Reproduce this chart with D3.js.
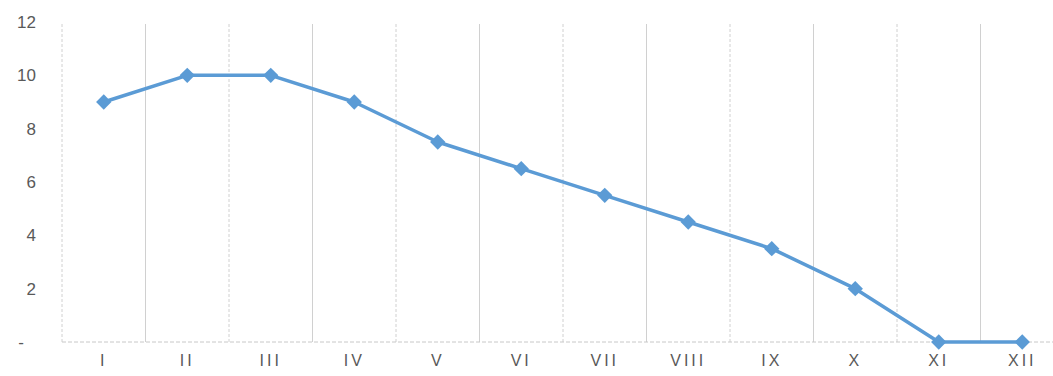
<!DOCTYPE html>
<html>
<head>
<meta charset="utf-8">
<script src="https://cdn.jsdelivr.net/npm/d3@7"></script>
<style>
  body { margin: 0; background: #fff; }
  text { font-family: "Liberation Sans", "DejaVu Sans", sans-serif; fill: #595959; }
</style>
</head>
<body>
<script>
// chart data
var months = ["I", "II", "III", "IV", "V", "VI", "VII", "VIII", "IX", "X", "XI", "XII"];
var values = [9, 10, 10, 9, 7.5, 6.5, 5.5, 4.5, 3.5, 2, 0, 0];
var yTicks = [0, 2, 4, 6, 8, 10, 12];

var width = 1053, height = 376;
var plotLeft = 62, plotRight = 1064, plotTop = 22, plotBottom = 342;

var svg = d3.select("body").append("svg")
    .attr("width", width)
    .attr("height", height);

var x = d3.scaleBand().domain(months).range([plotLeft, plotRight]);
var y = d3.scaleLinear().domain([0, 12]).range([plotBottom, plotTop]);

// vertical gridlines at band edges
var edges = months.map(function(m) { return x(m); });
svg.selectAll(".vgrid")
    .data(edges)
    .enter().append("line")
    .attr("class", "vgrid")
    .attr("x1", function(d) { return d; })
    .attr("x2", function(d) { return d; })
    .attr("y1", y(12) + 2)
    .attr("y2", plotBottom)
    .attr("stroke", "#d0d0d0")
    .attr("stroke-width", 1)
    .attr("stroke-dasharray", function(d, i) { return i % 2 == 0 ? "3,2" : null; });

// baseline
svg.append("line")
    .attr("x1", plotLeft).attr("x2", width)
    .attr("y1", y(0)).attr("y2", y(0))
    .attr("stroke", "#c8c8c8")
    .attr("stroke-dasharray", "4,2");

// y axis labels ("-" for zero sits further left)
var yAxis = d3.axisLeft(y)
    .tickValues(yTicks)
    .tickSize(0)
    .tickPadding(0)
    .tickFormat(function(d) { return d == 0 ? "-" : d; });
var ya = svg.append("g")
    .attr("transform", "translate(36,0)")
    .call(yAxis);
ya.select(".domain").remove();
ya.selectAll(".tick text")
    .style("font-size", "17px")
    .attr("fill", "#595959");
ya.selectAll(".tick")
    .filter(function(d) { return d == 0; })
    .select("text")
    .attr("x", -12);

// x axis labels
var xAxis = d3.axisBottom(x).tickSize(0).tickPadding(0);
var xa = svg.append("g")
    .attr("transform", "translate(0," + (plotBottom + 13) + ")")
    .call(xAxis);
xa.select(".domain").remove();
xa.selectAll("text")
    .style("font-size", "16px")
    .style("letter-spacing", "3px")
    .attr("fill", "#595959");

// line
var line = d3.line()
    .x(function(d, i) { return x(months[i]) + x.bandwidth() / 2; })
    .y(function(d) { return y(d); });

svg.append("path")
    .datum(values)
    .attr("d", line)
    .attr("fill", "none")
    .attr("stroke", "#5b9bd5")
    .attr("stroke-width", 3.5)
    .attr("stroke-linejoin", "round");

// diamond markers
svg.selectAll(".dot")
    .data(values)
    .enter().append("path")
    .attr("class", "dot")
    .attr("d", d3.symbol().type(d3.symbolDiamond2).size(150))
    .attr("transform", function(d, i) {
        return "translate(" + (x(months[i]) + x.bandwidth() / 2) + "," + y(d) + ")";
    })
    .attr("fill", "#5b9bd5");
</script>
</body>
</html>
